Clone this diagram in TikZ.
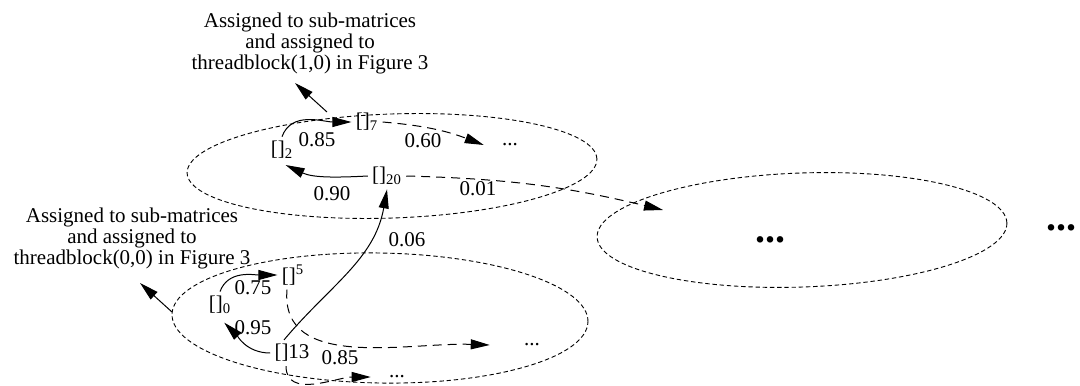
\documentclass[tikz,border=0pt]{standalone}
\usepackage{fontspec}
\setmainfont{Liberation Serif}
\usetikzlibrary{arrows.meta,positioning,calc}

\tikzset{
  cluster/.style={line width=.45pt,dash pattern=on 2.2pt off 1.4pt},
  item/.style={inner sep=2pt},
  weight/.style={inner sep=1pt},
  note/.style={align=center,inner sep=1pt},
  more/.style={inner sep=1pt,font=\fontsize{20}{20}\selectfont\bfseries},
  link/.style={line width=.5pt,-{Triangle[length=9.5pt,width=5pt]}},
  dlink/.style={link,dash pattern=on 4.5pt off 3pt},
}

\begin{document}
\begin{tikzpicture}[x=.5pt,y=.5pt,every node/.style={font=\fontsize{10.5}{10.5}\selectfont}]
  \useasboundingbox (0,0) rectangle (1080,-385);

  % the three thread blocks
  \draw[cluster,rotate around={2:(392,-166)}] (392,-166) ellipse [x radius=205,y radius=52];
  \draw[cluster,rotate around={-1:(380,-318)}] (380,-318) ellipse [x radius=208,y radius=65];
  \draw[cluster,rotate around={2:(802,-230)}] (802,-230) ellipse [x radius=205,y radius=57];
  \coordinate (rim10) at (327,-112);
  \coordinate (rim00) at (172,-312);
  \coordinate (rimn) at (663,-210);

  \node[note] (note10) at (310,-43) {Assigned to sub-matrices\\and assigned to\\threadblock(1,0) in Figure 3};
  \node[note] (note00) at (132,-238) {Assigned to sub-matrices\\and assigned to\\threadblock(0,0) in Figure 3};
  \coordinate (tip10) at (295,-83);
  \coordinate (tip00) at (140,-283);

  % rows of threadblock(1,0)
  \node[item] (r7) at (367,-122) {[]\textsubscript{7}};
  \node[item] (r2) at (282,-150) {[]\textsubscript{2}};
  \node[item] (r20) at (387,-176) {[]\textsubscript{20}};
  \node[item] (etc7) at (510,-145) {...};

  % rows of threadblock(0,0)
  \node[item] (r5) at (293,-275) {[]\textsuperscript{5}};
  \node[item] (r0) at (220,-305) {[]\textsubscript{0}};
  \node[item] (r13) at (292,-353) {[]13};
  \node[item] (etc13) at (397,-377) {...};
  \node[item] (etc5) at (532,-345) {...};

  \node[more] (etcn) at (770,-240) {...};
  \node[more,anchor=east] (etcr) at (1079,-228) {...};

  \node[weight] (w85a) at (317,-140) {0.85};
  \node[weight] (w60) at (423,-141) {0.60};
  \node[weight] (w90) at (332,-194) {0.90};
  \node[weight] (w01) at (478,-189) {0.01};
  \node[weight] (w06) at (407,-240) {0.06};
  \node[weight] (w75) at (253,-288) {0.75};
  \node[weight] (w95) at (253,-328) {0.95};
  \node[weight] (w85b) at (340,-358) {0.85};

  \draw[link] (rim10) -- (tip10);
  \draw[link] (rim00) -- (tip00);

  \draw[link] (r2.north) to[out=70,in=180] (r7.west);
  \draw[dlink] (r7.east) to[bend left=8] ([xshift=-7pt]etc7.west);
  \draw[link,shorten >=2pt] (r20.west) to[out=183,in=-25] (r2.south);
  \draw[dlink] (r20.east) to[bend left=6] (rimn);

  \draw[link] (r0.north) to[out=70,in=180] (r5.west);
  \draw[link,shorten >=3pt] (r13.west) to[out=180,in=-45] (r0.south);
  \draw[dlink] ([xshift=-3pt]r13.south) to[out=-90,in=180] ([xshift=-7pt]etc13.west);
  \draw[dlink] ([xshift=-3pt]r5.south) to[out=-95,in=178] ([xshift=-15pt]etc5.west);
  \draw[link] ([xshift=-4pt]r13.north) to[out=50,in=-100] (r20.south);
\end{tikzpicture}
\end{document}
